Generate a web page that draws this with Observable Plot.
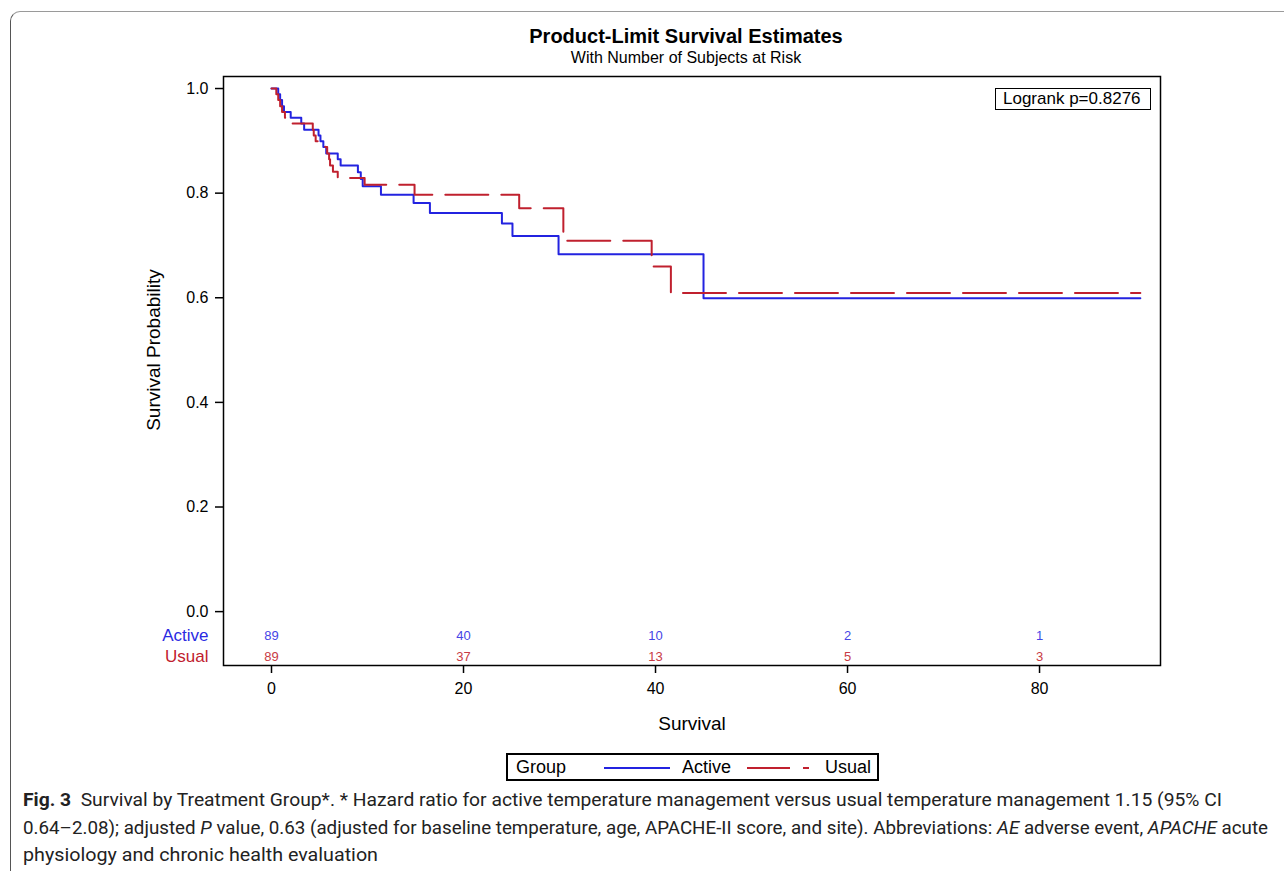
<!DOCTYPE html>
<html>
<head>
<meta charset="utf-8">
<script src="https://cdn.jsdelivr.net/npm/d3@7"></script>
<script src="https://cdn.jsdelivr.net/npm/@observablehq/plot@0.6"></script>
<style>
  html, body { margin: 0; padding: 0; background: #fff; }
  #wrap { position: relative; width: 1284px; height: 871px; overflow: hidden; font-family: "Liberation Sans", Arial, sans-serif; color: #000; }
  #border { position: absolute; left: 10px; top: 11px; width: 1400px; height: 1000px; border-top: 1.5px solid #9a9a9a; border-left: 1.5px solid #555; border-top-left-radius: 10px; }
  .title { position: absolute; left: 286px; width: 800px; text-align: center; white-space: nowrap; }
  #chart { position: absolute; left: 0; top: 0; }
  #logrank { position: absolute; left: 995px; top: 88px; width: 154px; height: 20px; border: 1.5px solid #000; font-size: 17px; line-height: 20px; padding-left: 0; box-sizing: content-box; }
  #logrank span { position: absolute; left: 7px; top: 0; white-space: nowrap; }
  #legend { position: absolute; left: 506px; top: 753px; width: 369px; height: 24px; border: 2px solid #000; font-size: 18px; }
  #legend span { position: absolute; top: 2px; white-space: nowrap; line-height: 20px; }
  #legend svg { position: absolute; top: 0; }
  #caption { position: absolute; left: 23px; top: 788px; font-family: "Roboto", "Liberation Sans", sans-serif; font-size: 18px; color: #222; }
  #caption div { position: absolute; left: 0; white-space: nowrap; transform-origin: 0 0; line-height: 24px; }
</style>
</head>
<body>
<div id="wrap">
  <div id="border"></div>
  <div class="title" style="top:25px;font-size:20px;font-weight:bold;">Product-Limit Survival Estimates</div>
  <div class="title" style="top:49px;font-size:16px;">With Number of Subjects at Risk</div>
  <div id="chart"></div>
  <div id="logrank"><span>Logrank p=0.8276</span></div>
  <div id="legend"></div>
  <div id="caption"></div>
</div>
<script>
// ---- Data ----
const groups = ["Active", "Usual"];

const activeTime = [0, 0.7, 0.9, 1.1, 1.3, 2.0, 3.1, 3.4, 4.9, 5.1, 5.4, 5.7, 6.9, 7.2, 9.0, 9.3, 9.5, 11.4, 14.8, 16.5, 24.0, 25.1, 29.9, 45.0, 90.5];
const activeSurv = [1.0, 0.989, 0.978, 0.966, 0.955, 0.944, 0.933, 0.921, 0.910, 0.899, 0.888, 0.876, 0.865, 0.853, 0.840, 0.827, 0.813, 0.797, 0.781, 0.762, 0.742, 0.718, 0.683, 0.599, 0.599];

const usualTime = [0, 0.5, 0.7, 0.9, 1.1, 1.4, 2.2, 4.3, 4.4, 4.6, 5.6, 5.8, 6.0, 6.1, 6.4, 6.9, 9.7, 14.9, 25.8, 30.4, 39.6, 41.6, 90.5];
const usualSurv = [1.0, 0.989, 0.978, 0.966, 0.955, 0.944, 0.933, 0.921, 0.910, 0.899, 0.888, 0.876, 0.865, 0.853, 0.841, 0.829, 0.816, 0.797, 0.771, 0.709, 0.660, 0.609, 0.609];

const riskTimes = [0, 20, 40, 60, 80];
const activeAtRisk = [89, 40, 10, 2, 1];
const usualAtRisk = [89, 37, 13, 5, 3];

const xTicks = [0, 20, 40, 60, 80];
const yTicks = [0, 0.2, 0.4, 0.6, 0.8, 1.0];

const logrankText = "Logrank p=0.8276";

// ---- Styles ----
const lineColor = { Active: "#2323e0", Usual: "#c0202e" };
const numColor = { Active: "#4545e6", Usual: "#c83a44" };
const labelColor = { Active: "#2a2ae2", Usual: "#c0202e" };
const rowY = { Active: -0.046, Usual: -0.086 };
const dash = "43,13";

const series = [
  ...activeTime.map((t, i) => ({ group: "Active", t, s: activeSurv[i] })),
  ...usualTime.map((t, i) => ({ group: "Usual", t, s: usualSurv[i] }))
];
const risk = [
  ...riskTimes.map((t, i) => ({ group: "Active", t, n: activeAtRisk[i] })),
  ...riskTimes.map((t, i) => ({ group: "Usual", t, n: usualAtRisk[i] }))
];

const chart = Plot.plot({
  width: 1284,
  height: 740,
  marginLeft: 223,
  marginRight: 124,
  marginTop: 76,
  marginBottom: 75,
  style: { fontFamily: "'Liberation Sans', Arial, sans-serif", fontSize: "16px", color: "#000", background: "transparent" },
  x: { domain: [-5, 92.6] },
  y: { domain: [-0.103, 1.023] },
  marks: [
    Plot.frame({ stroke: "#000", strokeWidth: 1.5 }),
    Plot.axisY({ ticks: yTicks, tickFormat: ".1f", tickSize: 8, tickPadding: 7, label: null, strokeWidth: 1.5, fontSize: 16 }),
    Plot.axisX({ ticks: xTicks, tickSize: 8, tickPadding: 9, label: null, strokeWidth: 1.5, fontSize: 16 }),
    Plot.line(series.filter(d => d.group === "Active"), { x: "t", y: "s", curve: "step-after", stroke: lineColor.Active, strokeWidth: 2 }),
    Plot.line(series.filter(d => d.group === "Usual"), { x: "t", y: "s", curve: "step-after", stroke: lineColor.Usual, strokeWidth: 2, strokeDasharray: dash }),
    Plot.text(risk, { x: "t", y: d => rowY[d.group], text: d => String(d.n), fill: d => numColor[d.group], fontSize: 13 }),
    Plot.text(groups, { frameAnchor: "left", y: g => rowY[g], text: g => g, fill: g => labelColor[g], textAnchor: "end", dx: -15, fontSize: 17 }),
    Plot.text(["Survival Probability"], { frameAnchor: "left", y: [0.5], text: d => d, rotate: -90, textAnchor: "middle", dx: -70, fontSize: 19 }),
    Plot.text(["Survival"], { frameAnchor: "bottom", text: d => d, dy: 64, fontSize: 19 })
  ]
});
document.getElementById("chart").appendChild(chart);

// Legend
const legend = document.getElementById("legend");
legend.innerHTML = `
  <span style="left:8px;">Group</span>
  <svg style="left:96px;" width="70" height="24"><line x1="0" y1="13" x2="66" y2="13" stroke="${lineColor.Active}" stroke-width="2"/></svg>
  <span style="left:174px;">${groups[0]}</span>
  <svg style="left:239px;" width="70" height="24"><line x1="0" y1="13" x2="62" y2="13" stroke="${lineColor.Usual}" stroke-width="2" stroke-dasharray="${dash}"/></svg>
  <span style="left:317px;">${groups[1]}</span>`;

// Caption
const capLines = [
  { html: "<b>Fig. 3</b>&nbsp; Survival by Treatment Group*. * Hazard ratio for active temperature management versus usual temperature management 1.15 (95% CI", w: 1199, top: 0 },
  { html: "0.64–2.08); adjusted <i>P</i> value, 0.63 (adjusted for baseline temperature, age, APACHE-II score, and site). Abbreviations: <i>AE</i> adverse event, <i>APACHE</i> acute", w: 1245, top: 28 },
  { html: "physiology and chronic health evaluation", w: 355, top: 55 }
];
const cap = document.getElementById("caption");
for (const l of capLines) {
  const d = document.createElement("div");
  d.innerHTML = l.html;
  d.style.top = l.top + "px";
  cap.appendChild(d);
  const w = d.getBoundingClientRect().width;
  d.style.transform = `scaleX(${l.w / w})`;
}
</script>
</body>
</html>
